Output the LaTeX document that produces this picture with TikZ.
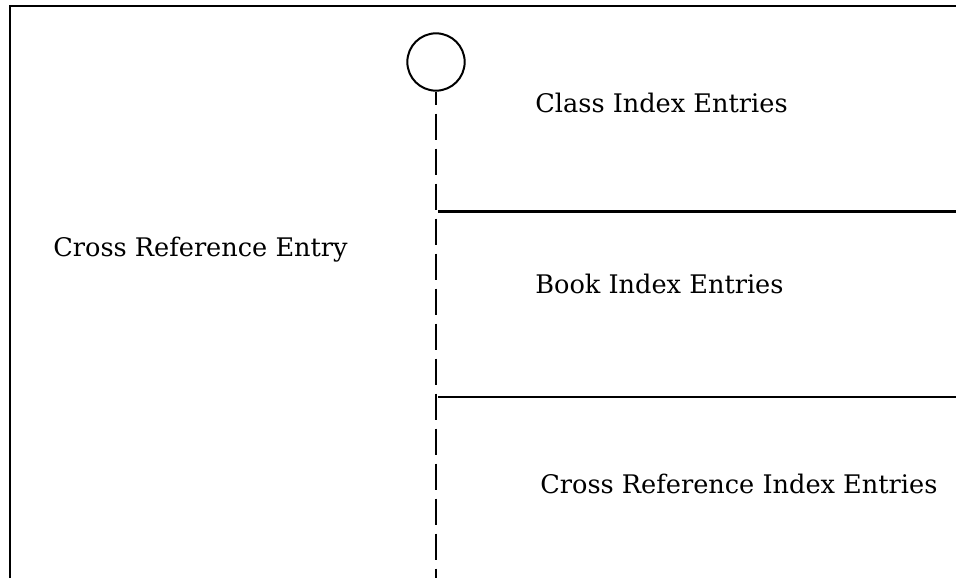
\documentclass[tikz,border=0pt]{standalone}
\usepackage{fontspec}
\setmainfont{DejaVu Serif}
\usetikzlibrary{positioning}

\begin{document}
\begin{tikzpicture}[x=0.75pt,y=-0.75pt,line width=2pt,
                    every node/.style={font=\fontsize{19.2}{21}\selectfont}]
	\tikzstyle{lifeline}=[line width=2pt,dash pattern=on 19.5pt off 6.75pt,dash phase=9.75pt]
	\tikzstyle{head}=[circle,draw,line width=1.5pt,minimum size=43pt,inner sep=0pt]
  %\tikzstyle{entry}=[anchor=base west]
	\tikzstyle{entry}=[anchor=base west,inner sep=0pt]

	\useasboundingbox (0,0) rectangle (956,578);

	\node[head]  (H) at (436,62) {};
	\coordinate  (E) at (436,578);
	\coordinate  (S1) at (438,211.5);
	\coordinate  (S2) at (438,397);

	\node[entry] (CE)  at (52,256)  {Cross Reference Entry};
	\node[entry] (CIE) at (534,112) {Class Index Entries};
	\node[entry] (BIE) at (534,293) {Book Index Entries};
	\node[entry] (XIE) at (539,493) {Cross Reference Index Entries};

	% outer frame, cut at right and bottom
	\draw (10,578) -- (10,6) -- (956,6);
	\draw[lifeline] (H.south) -- (E);
	\draw (S1) -- (S1 -| 956,0);
	\draw (S2) -- (S2 -| 956,0);
\end{tikzpicture}
\end{document}
